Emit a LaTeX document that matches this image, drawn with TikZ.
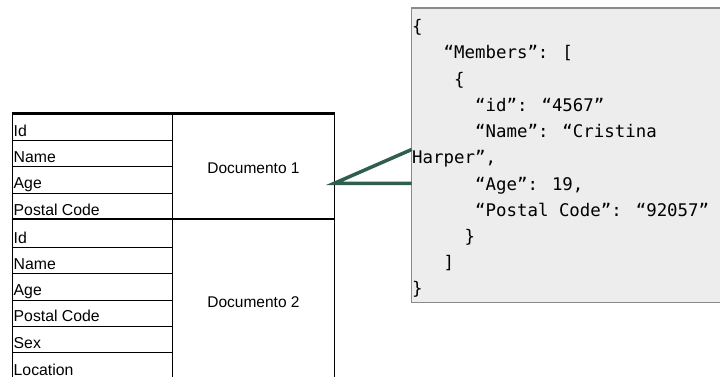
\documentclass[tikz,border=0pt]{standalone}
\usepackage{fontspec}
\setmainfont{Liberation Sans}
\newfontfamily\codefont{DejaVu Sans Mono}
\definecolor{linkgreen}{HTML}{2F5E4E}
\definecolor{boxfill}{HTML}{EDEDED}
\definecolor{boxline}{HTML}{8A8A8A}
\begin{document}
\begin{tikzpicture}[x=1pt,y=-1pt,
  thin line/.style={line width=0.9pt,black},
  thick line/.style={line width=2.4pt,black},
  field/.style={anchor=base west,inner sep=0pt,font=\fontsize{15.8}{18}\selectfont},
  doclabel/.style={anchor=center,inner sep=0pt,font=\fontsize{15.5}{18}\selectfont},
  code/.style={anchor=base west,inner sep=0pt,font=\codefont\fontsize{17.4}{20}\selectfont},
  link/.style={line width=3.5pt,linkgreen}]
\useasboundingbox (0,0) rectangle (720,377);
% JSON box
\path[fill=boxfill,draw=boxline,line width=1.5pt] (411.7,8) rectangle (730,302.3);
\coordinate (jtop) at (411.7,149.5);
\coordinate (jbot) at (411.7,183.3);
% table verticals
\draw[thin line] (12.3,113.5) -- (12.3,380);
\draw[thin line] (172.7,113.5) -- (172.7,380);
\draw[thin line] (334.3,113.5) -- (334.3,380);
% row separators doc 1
\foreach \y in {140.7,166.7,193.3} \draw[thin line] (12.3,\y) -- (172.7,\y);
% row separators doc 2
\foreach \y in {247.7,273.3,300,326,352.7} \draw[thin line] (12.3,\y) -- (172.7,\y);
\draw[thick line] (11.5,113.5) -- (335,113.5);
\draw[thick line] (11.5,219) -- (335,219);
% fields
\node[field] (f1) at (13.5,136.2) {Id};
\node[field] (f2) at (13.5,162.2) {Name};
\node[field] (f3) at (13.5,188.8) {Age};
\node[field] (f4) at (13.5,215) {Postal Code};
\node[field] (g1) at (13.5,243.2) {Id};
\node[field] (g2) at (13.5,269) {Name};
\node[field] (g3) at (13.5,295.5) {Age};
\node[field] (g4) at (13.5,321.8) {Postal Code};
\node[field] (g5) at (13.5,348.3) {Sex};
\node[field] (g6) at (13.5,375) {Location};
\node[doclabel] (d1) at (253.5,168) {Documento 1};
\node[doclabel] (d2) at (253.5,302.5) {Documento 2};
\coordinate (d1r) at (334.3,183.3);
% JSON text
\def\cw{10.5}
\node[code] (j1) at (412,33) {\{};
\node[code] (j2) at (412+3*\cw,59) {“Members”: [};
\node[code] (j3) at (412+4*\cw,85.5) {\{};
\node[code] (j4) at (412+6*\cw,111.5) {“id”: “4567”};
\node[code] (j5) at (412+6*\cw,137.5) {“Name”: “Cristina};
\node[code] (j6) at (412,163.5) {Harper”,};
\node[code] (j7) at (412+6*\cw,190) {“Age”: 19,};
\node[code] (j8) at (412+6*\cw,216) {“Postal Code”: “92057”};
\node[code] (j9) at (412+5*\cw,242) {\}};
\node[code] (j10) at (412+3*\cw,268.5) {]};
\node[code] (j11) at (412,294.5) {\}};
% links
\draw[link,line cap=butt] (jtop) -- (d1r) -- (jbot);
\end{tikzpicture}
\end{document}
